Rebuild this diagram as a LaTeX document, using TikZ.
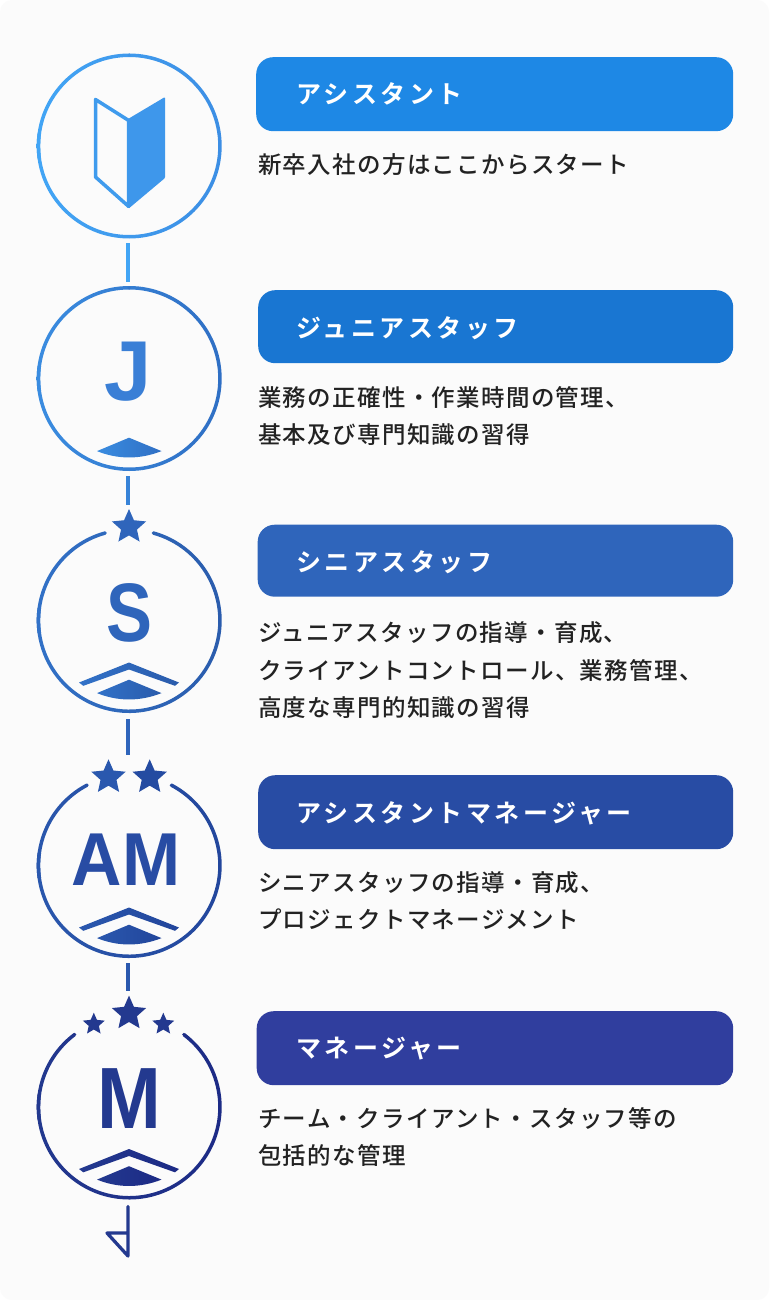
\documentclass[tikz,border=0pt]{standalone}
\usepackage{fontspec}
\usetikzlibrary{shapes.geometric}
\newfontfamily\headfont[LetterSpace=14,BoldFont={Noto Sans CJK JP Bold}]{Noto Sans CJK JP}
\newfontfamily\bodyfont[LetterSpace=5.6]{Noto Sans CJK JP Medium}
\newfontfamily\markfont{Liberation Sans}
\definecolor{pagebg}{HTML}{FBFBFB}
\definecolor{inktext}{HTML}{222222}
\definecolor{barA}{HTML}{1E88E5}
\definecolor{barB}{HTML}{1976D2}
\definecolor{barC}{HTML}{2F65BB}
\definecolor{barD}{HTML}{284CA4}
\definecolor{barE}{HTML}{303E9E}
\definecolor{markJ}{HTML}{3A7FD6}
\definecolor{ringAl}{HTML}{42A5F5}
\definecolor{ringAr}{HTML}{3C8EE4}
\definecolor{ringBl}{HTML}{3A8CE0}
\definecolor{ringBr}{HTML}{2F6FC4}
\definecolor{ringCl}{HTML}{3272C8}
\definecolor{ringCr}{HTML}{2A5BAB}
\definecolor{ringDl}{HTML}{2A58AE}
\definecolor{ringDr}{HTML}{22459B}
\definecolor{ringEl}{HTML}{23398F}
\definecolor{ringEr}{HTML}{1C2A85}
\tikzset{
  ringbase/.style={circle,minimum size=180pt,inner sep=0pt,outer sep=1.5pt},
  barbox/.style={anchor=north west,rounded corners=17pt,minimum height=73pt,inner sep=0pt,text=white},
  headtext/.style={anchor=base west,inner sep=0pt,text=white,font=\headfont\bfseries\fontsize{25}{28}\selectfont},
  bodytext/.style={anchor=base west,inner sep=0pt,text=inktext,font=\bodyfont\fontsize{23.5}{28}\selectfont},
  marktext/.style={inner sep=0pt,anchor=base},
  starmark/.style={star,star points=5,star point ratio=2.15,inner sep=0pt,outer sep=0pt,draw=none},
  link/.style={line width=3.3pt},
}
% ring with a gap on top of half-angle #2 (measured from vertical); gap 0 gives a full ring
\newcommand{\gapring}[4]{%
  \pgfmathsetmacro{\ga}{90+#2}\pgfmathsetmacro{\gb}{450-#2}\pgfmathsetmacro{\gc}{90-#2}%
  \shade[left color=#3,right color=#4]
    ([shift={(\ga:92.5pt)}]#1.center) arc[start angle=\ga,end angle=\gb,radius=92.5pt]
    -- ([shift={(\gc:89pt)}]#1.center) arc[start angle=\gb,end angle=\ga,radius=89pt] -- cycle;
  \fill[#3!65!#4] ([shift={(\ga:90.75pt)}]#1.center) circle[radius=1.75pt];
  \fill[#3!25!#4] ([shift={(\gc:90.75pt)}]#1.center) circle[radius=1.75pt];
  \draw[#3,line width=3.5pt] ([shift={(172:90.75pt)}]#1.center) arc[start angle=172,end angle=188,radius=90.75pt];}
% curved diamond under the letter; #1 = centre y
\newcommand{\basediamond}[3]{%
  \shade[left color=#2,right color=#3]
    (97,#1+72.6) -- (129,#1+59.2) -- (161.5,#1+72.6)
    .. controls (140,#1+81.1) and (118,#1+81.1) .. cycle;}
% chevron above the diamond
\newcommand{\basechevron}[3]{%
  \shade[left color=#2,right color=#3]
    (79,#1+62) -- (129,#1+42) -- (179,#1+62) -- (175,#1+65.3)
    -- (129,#1+49) -- (83.3,#1+65.3) -- cycle;}
\begin{document}
\begin{tikzpicture}[x=1pt,y=-1pt]
\useasboundingbox (0,0) rectangle (769,1300);
\fill[white] (0,0) rectangle (769,1300);
\fill[pagebg,rounded corners=12pt] (0,0) rectangle (769,1300);

% ring anchors
\node[ringbase] (c1) at (129.2,146) {};
\node[ringbase] (c2) at (129.2,378.5) {};
\node[ringbase] (c3) at (129.2,620.5) {};
\node[ringbase] (c4) at (129.2,865.5) {};
\node[ringbase] (c5) at (129.2,1107) {};

% rings
\gapring{c1}{0}{ringAl}{ringAr}
\gapring{c2}{0}{ringBl}{ringBr}
\gapring{c3}{15.4}{ringCl}{ringCr}
\gapring{c4}{27.7}{ringDl}{ringDr}
\gapring{c5}{37}{ringEl}{ringEr}

% stars
\node[starmark,minimum size=36pt,fill=barC] (s3) at (129,527) {};
\node[starmark,minimum size=36pt,fill=ringDl] (s4a) at (108.5,777.3) {};
\node[starmark,minimum size=36pt,fill=ringDr!70!ringDl] (s4b) at (149.7,777.3) {};
\node[starmark,minimum size=36pt,fill=ringEl] (s5b) at (129,1013.6) {};
\node[starmark,minimum size=23pt,fill=ringEl] (s5a) at (93.8,1024.2) {};
\node[starmark,minimum size=23pt,fill=ringEl] (s5c) at (163.3,1024.2) {};

% flag coordinates
\coordinate (flagend) at (128,1256);
\coordinate (flagmid) at (128,1233);
\coordinate (flagleft) at (107,1233);
\coordinate (dropfour) at (128,755);

% connectors
\draw[link,draw=ringAl] ([xshift=-1.2pt,yshift=-5.5pt]c1.south) -- ([xshift=-1.2pt,yshift=5pt]c2.north);
\draw[link,draw=ringBl!70!ringBr] ([xshift=-1.2pt,yshift=-6pt]c2.south) -- ([xshift=-1pt,yshift=4pt]s3.north);
\draw[link,draw=barC] ([xshift=-1.2pt,yshift=-7pt]c3.south) -- (dropfour);
\draw[link,draw=ringDl] ([xshift=-1.2pt,yshift=-6pt]c4.south) -- ([xshift=-1pt,yshift=4.6pt]s5b.north);
\draw[link,draw=ringEl,line cap=round,line join=round]
  ([xshift=-1.2pt,yshift=-8pt]c5.south) -- (flagend) -- (flagleft) -- (flagmid);

% book
\draw[line width=3.5pt,draw=ringAl!55!ringAr,line join=round]
  (95.5,99.5) -- (128.7,120.5) -- (128.7,206.5) -- (95.5,177) -- cycle;
\fill[ringAl!40!ringAr,rounded corners=1pt]
  (127.5,119.3) -- (165,97) -- (165,178) -- (128.7,208.5) -- (127.5,207) -- cycle;

% letters
\node[marktext,text=markJ,font=\markfont\bfseries\fontsize{85}{86}\selectfont] (lJ) at (128.6,400) {J};
\node[marktext,text=barC,font=\markfont\bfseries\fontsize{83}{86}\selectfont] (lS) at (129,641) {\scalebox{0.83}[1]{S}};
\node[marktext,text=barD,font=\markfont\bfseries\fontsize{75}{86}\selectfont] (lAM) at (126,885) {\scalebox{0.93}[1]{AM}};
\node[marktext,text=ringEl,font=\markfont\bfseries\fontsize{87}{86}\selectfont] (lM) at (129,1128) {\scalebox{0.88}[1]{M}};

% emblems
\basediamond{378.5}{ringBl}{ringBr}
\basediamond{620.5}{ringCl}{ringCr}
\basechevron{620.5}{ringCl}{ringCr}
\basediamond{865.5}{ringDl}{ringDr}
\basechevron{865.5}{ringDl}{ringDr}
\basediamond{1107}{ringEl}{ringEr}
\basechevron{1107}{ringEl}{ringEr}

% bars
\node[barbox,fill=barA,minimum width=477pt,minimum height=74pt] (b1) at (256,57) {};
\node[barbox,fill=barB,minimum width=475pt,minimum height=73pt] (b2) at (258,290) {};
\node[barbox,fill=barC,minimum width=475.5pt,minimum height=72pt] (b3) at (257.5,524.5) {};
\node[barbox,fill=barD,minimum width=475pt,minimum height=74pt] (b4) at (258,775) {};
\node[barbox,fill=barE,minimum width=476.5pt,minimum height=74pt] (b5) at (256.5,1011) {};

% titles
\node[headtext] (t1) at (296,104) {アシスタント};
\node[headtext] (t2) at (296,337) {ジュニアスタッフ};
\node[headtext] (t3) at (296,571) {シニアスタッフ};
\node[headtext] (t4) at (296,822) {アシスタントマネージャー};
\node[headtext] (t5) at (296,1057) {マネージャー};

% descriptions
\node[bodytext] (d1) at (258,174) {新卒入社の方はここからスタート};
\node[bodytext] (d2a) at (258,406) {業務の正確性・作業時間の管理、};
\node[bodytext] (d2b) at (258,443) {基本及び専門知識の習得};
\node[bodytext] (d3a) at (258,641) {ジュニアスタッフの指導・育成、};
\node[bodytext] (d3b) at (258,679) {クライアントコントロール、業務管理、};
\node[bodytext] (d3c) at (258,716) {高度な専門的知識の習得};
\node[bodytext] (d4a) at (258,891) {シニアスタッフの指導・育成、};
\node[bodytext] (d4b) at (258,928) {プロジェクトマネージメント};
\node[bodytext] (d5a) at (258,1127) {チーム・クライアント・スタッフ等の};
\node[bodytext] (d5b) at (258,1164) {包括的な管理};
\end{tikzpicture}
\end{document}
